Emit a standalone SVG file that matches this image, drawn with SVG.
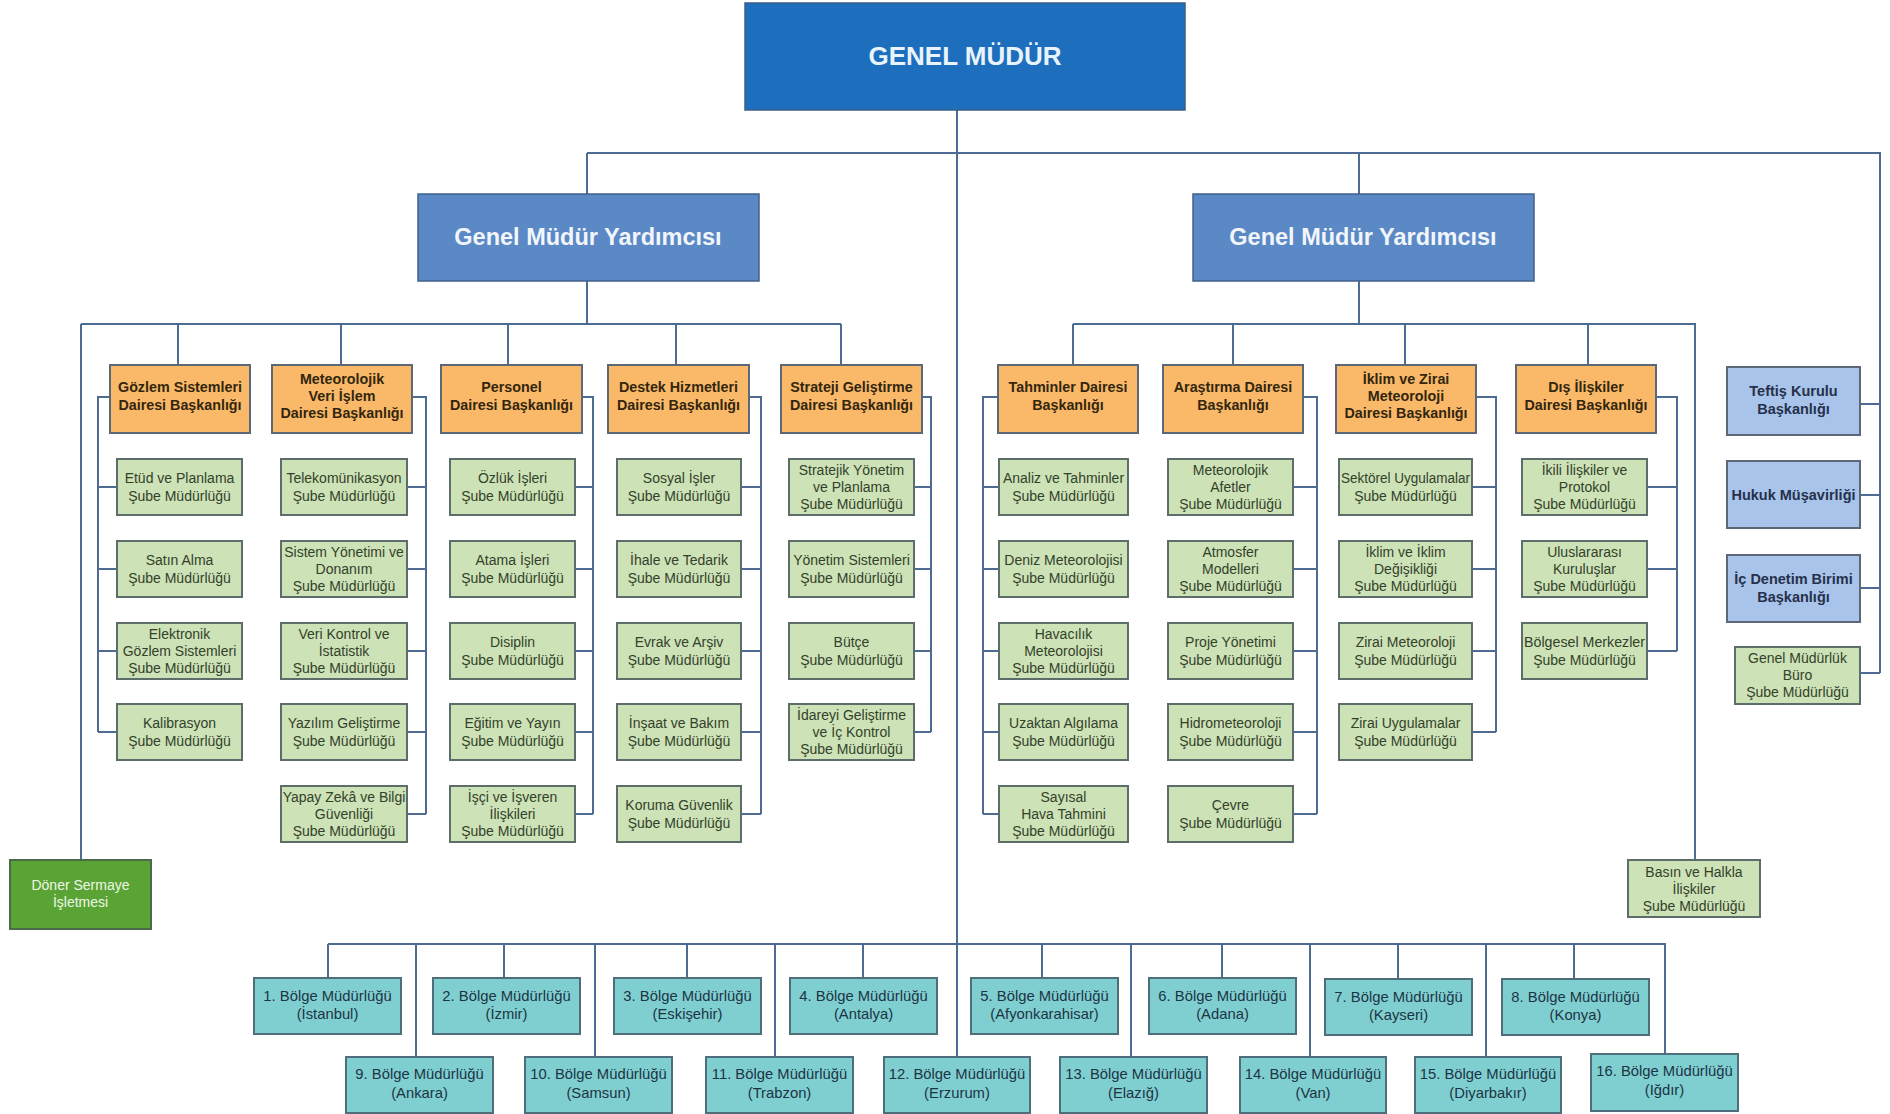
<svg xmlns="http://www.w3.org/2000/svg" width="1890" height="1114" viewBox="0 0 1890 1114">
<style>
.ln{stroke:#4e6b93;stroke-width:2;fill:none}
.gm{fill:#1d6fbe;stroke:#3a5f86;stroke-width:1.5}
.gmy{fill:#5b89c6;stroke:#40618c;stroke-width:1.5}
.or{fill:#f9b968;stroke:#5c6875;stroke-width:2}
.gr{fill:#cde2b6;stroke:#5c6d6a;stroke-width:2}
.bl{fill:#a8c4ea;stroke:#5c6878;stroke-width:2}
.tl{fill:#80cfd0;stroke:#4f6e7c;stroke-width:2}
.dn{fill:#5aa435;stroke:#4a6a4a;stroke-width:2}
text{font-family:"Liberation Sans",Arial,sans-serif;text-anchor:middle}
.tgm{font-size:26px;font-weight:bold;fill:#e8f3fb}
.tgmy{font-size:23.5px;font-weight:bold;fill:#f2f6fb}
.tor{font-size:14.3px;font-weight:bold;fill:#33260f}
.tgr{font-size:14px;fill:#33412b}
.tbl{font-size:14.5px;font-weight:bold;fill:#26304a}
.ttl{font-size:14.8px;fill:#1c3444}
.tdn{font-size:14px;fill:#eef7e6}
</style>

<g id="connectors">
<path class="ln" d="M957,110 V1057"/>
<path class="ln" d="M587,153 H1880 V673"/>
<path class="ln" d="M587,153 V194"/>
<path class="ln" d="M1359,153 V194"/>
<path class="ln" d="M1860,404 H1880 M1860,495 H1880 M1860,588 H1880 M1860,673 H1880"/>
<path class="ln" d="M587,281 V324 M81,324 H841 M81,324 V860"/>
<path class="ln" d="M178,324 V365 M341,324 V365 M508,324 V365 M676,324 V365 M841,324 V365"/>
<path class="ln" d="M1359,281 V324 M1073,324 H1695 V860"/>
<path class="ln" d="M1073,324 V365 M1233,324 V365 M1405,324 V365 M1588,324 V365"/>
<path class="ln" d="M110,397 H98 V732 M98,487 H117 M98,569 H117 M98,651 H117 M98,732 H117"/>
<path class="ln" d="M412,397 H426 V814 M407,487 H426 M407,569 H426 M407,651 H426 M407,732 H426 M407,814 H426"/>
<path class="ln" d="M582,397 H593 V814 M575,487 H593 M575,569 H593 M575,651 H593 M575,732 H593 M575,814 H593"/>
<path class="ln" d="M749,397 H761 V814 M741,487 H761 M741,569 H761 M741,651 H761 M741,732 H761 M741,814 H761"/>
<path class="ln" d="M922,397 H931 V732 M914,487 H931 M914,569 H931 M914,651 H931 M914,732 H931"/>
<path class="ln" d="M998,397 H983 V814 M983,487 H999 M983,569 H999 M983,651 H999 M983,732 H999 M983,814 H999"/>
<path class="ln" d="M1303,397 H1317 V814 M1293,487 H1317 M1293,569 H1317 M1293,651 H1317 M1293,732 H1317 M1293,814 H1317"/>
<path class="ln" d="M1476,397 H1496 V732 M1472,487 H1496 M1472,569 H1496 M1472,651 H1496 M1472,732 H1496"/>
<path class="ln" d="M1656,397 H1677 V651 M1647,487 H1677 M1647,569 H1677 M1647,651 H1677"/>
<path class="ln" d="M328,944 H1665 V1054"/>
<path class="ln" d="M328,944 V978 M504,944 V978 M687,944 V978 M863,944 V978 M1042,944 V978 M1222,944 V978 M1398,944 V978 M1574,944 V978"/>
<path class="ln" d="M416,944 V1057 M595,944 V1057 M775,944 V1057 M1131,944 V1057 M1310,944 V1057 M1486,944 V1057"/>
</g>

<g id="genel-mudur"><rect class="gm" x="745" y="3" width="440" height="107"/><text class="tgm" x="965" y="65">GENEL MÜDÜR</text></g>
<g id="gmy-left"><rect class="gmy" x="418" y="194" width="341" height="87"/><text class="tgmy" x="588" y="245">Genel Müdür Yardımcısı</text></g>
<g id="gmy-right"><rect class="gmy" x="1193" y="194" width="341" height="87"/><text class="tgmy" x="1363" y="245">Genel Müdür Yardımcısı</text></g>

<g id="gozlem"><rect class="or" x="110" y="365" width="140" height="68"/><text class="tor"><tspan x="180" y="392">Gözlem Sistemleri</tspan><tspan x="180" y="410">Dairesi Başkanlığı</tspan></text></g>
<g id="meteorolojik-veri"><rect class="or" x="272" y="365" width="140" height="68"/><text class="tor"><tspan x="342" y="384">Meteorolojik</tspan><tspan x="342" y="401">Veri İşlem</tspan><tspan x="342" y="418">Dairesi Başkanlığı</tspan></text></g>
<g id="personel"><rect class="or" x="441" y="365" width="141" height="68"/><text class="tor"><tspan x="511.5" y="392">Personel</tspan><tspan x="511.5" y="410">Dairesi Başkanlığı</tspan></text></g>
<g id="destek"><rect class="or" x="608" y="365" width="141" height="68"/><text class="tor"><tspan x="678.5" y="392">Destek Hizmetleri</tspan><tspan x="678.5" y="410">Dairesi Başkanlığı</tspan></text></g>
<g id="strateji"><rect class="or" x="781" y="365" width="141" height="68"/><text class="tor"><tspan x="851.5" y="392">Strateji Geliştirme</tspan><tspan x="851.5" y="410">Dairesi Başkanlığı</tspan></text></g>
<g id="tahminler"><rect class="or" x="998" y="365" width="140" height="68"/><text class="tor"><tspan x="1068" y="392">Tahminler Dairesi</tspan><tspan x="1068" y="410">Başkanlığı</tspan></text></g>
<g id="arastirma"><rect class="or" x="1163" y="365" width="140" height="68"/><text class="tor"><tspan x="1233" y="392">Araştırma Dairesi</tspan><tspan x="1233" y="410">Başkanlığı</tspan></text></g>
<g id="iklim"><rect class="or" x="1336" y="365" width="140" height="68"/><text class="tor"><tspan x="1406" y="384">İklim ve Zirai</tspan><tspan x="1406" y="401">Meteoroloji</tspan><tspan x="1406" y="418">Dairesi Başkanlığı</tspan></text></g>
<g id="dis-iliskiler"><rect class="or" x="1516" y="365" width="140" height="68"/><text class="tor"><tspan x="1586" y="392">Dış İlişkiler</tspan><tspan x="1586" y="410">Dairesi Başkanlığı</tspan></text></g>

<g id="etud"><rect class="gr" x="117" y="459" width="125" height="56"/><text class="tgr"><tspan x="179.5" y="483">Etüd ve Planlama</tspan><tspan x="179.5" y="501">Şube Müdürlüğü</tspan></text></g>
<g id="satin-alma"><rect class="gr" x="117" y="541" width="125" height="56"/><text class="tgr"><tspan x="179.5" y="565">Satın Alma</tspan><tspan x="179.5" y="583">Şube Müdürlüğü</tspan></text></g>
<g id="elektronik"><rect class="gr" x="117" y="623" width="125" height="56"/><text class="tgr"><tspan x="179.5" y="639">Elektronik</tspan><tspan x="179.5" y="656">Gözlem Sistemleri</tspan><tspan x="179.5" y="673">Şube Müdürlüğü</tspan></text></g>
<g id="kalibrasyon"><rect class="gr" x="117" y="704" width="125" height="56"/><text class="tgr"><tspan x="179.5" y="728">Kalibrasyon</tspan><tspan x="179.5" y="746">Şube Müdürlüğü</tspan></text></g>

<g id="telekom"><rect class="gr" x="281" y="459" width="126" height="56"/><text class="tgr"><tspan x="344" y="483">Telekomünikasyon</tspan><tspan x="344" y="501">Şube Müdürlüğü</tspan></text></g>
<g id="sistem-yonetimi"><rect class="gr" x="281" y="541" width="126" height="56"/><text class="tgr"><tspan x="344" y="557">Sistem Yönetimi ve</tspan><tspan x="344" y="574">Donanım</tspan><tspan x="344" y="591">Şube Müdürlüğü</tspan></text></g>
<g id="veri-kontrol"><rect class="gr" x="281" y="623" width="126" height="56"/><text class="tgr"><tspan x="344" y="639">Veri Kontrol ve</tspan><tspan x="344" y="656">İstatistik</tspan><tspan x="344" y="673">Şube Müdürlüğü</tspan></text></g>
<g id="yazilim"><rect class="gr" x="281" y="704" width="126" height="56"/><text class="tgr"><tspan x="344" y="728">Yazılım Geliştirme</tspan><tspan x="344" y="746">Şube Müdürlüğü</tspan></text></g>
<g id="yapay-zeka"><rect class="gr" x="281" y="786" width="126" height="56"/><text class="tgr"><tspan x="344" y="802">Yapay Zekâ ve Bilgi</tspan><tspan x="344" y="819">Güvenliği</tspan><tspan x="344" y="836">Şube Müdürlüğü</tspan></text></g>

<g id="ozluk"><rect class="gr" x="450" y="459" width="125" height="56"/><text class="tgr"><tspan x="512.5" y="483">Özlük İşleri</tspan><tspan x="512.5" y="501">Şube Müdürlüğü</tspan></text></g>
<g id="atama"><rect class="gr" x="450" y="541" width="125" height="56"/><text class="tgr"><tspan x="512.5" y="565">Atama İşleri</tspan><tspan x="512.5" y="583">Şube Müdürlüğü</tspan></text></g>
<g id="disiplin"><rect class="gr" x="450" y="623" width="125" height="56"/><text class="tgr"><tspan x="512.5" y="647">Disiplin</tspan><tspan x="512.5" y="665">Şube Müdürlüğü</tspan></text></g>
<g id="egitim"><rect class="gr" x="450" y="704" width="125" height="56"/><text class="tgr"><tspan x="512.5" y="728">Eğitim ve Yayın</tspan><tspan x="512.5" y="746">Şube Müdürlüğü</tspan></text></g>
<g id="isci-isveren"><rect class="gr" x="450" y="786" width="125" height="56"/><text class="tgr"><tspan x="512.5" y="802">İşçi ve İşveren</tspan><tspan x="512.5" y="819">İlişkileri</tspan><tspan x="512.5" y="836">Şube Müdürlüğü</tspan></text></g>

<g id="sosyal"><rect class="gr" x="617" y="459" width="124" height="56"/><text class="tgr"><tspan x="679" y="483">Sosyal İşler</tspan><tspan x="679" y="501">Şube Müdürlüğü</tspan></text></g>
<g id="ihale"><rect class="gr" x="617" y="541" width="124" height="56"/><text class="tgr"><tspan x="679" y="565">İhale ve Tedarik</tspan><tspan x="679" y="583">Şube Müdürlüğü</tspan></text></g>
<g id="evrak"><rect class="gr" x="617" y="623" width="124" height="56"/><text class="tgr"><tspan x="679" y="647">Evrak ve Arşiv</tspan><tspan x="679" y="665">Şube Müdürlüğü</tspan></text></g>
<g id="insaat"><rect class="gr" x="617" y="704" width="124" height="56"/><text class="tgr"><tspan x="679" y="728">İnşaat ve Bakım</tspan><tspan x="679" y="746">Şube Müdürlüğü</tspan></text></g>
<g id="koruma"><rect class="gr" x="617" y="786" width="124" height="56"/><text class="tgr"><tspan x="679" y="810">Koruma Güvenlik</tspan><tspan x="679" y="828">Şube Müdürlüğü</tspan></text></g>

<g id="stratejik-yonetim"><rect class="gr" x="789" y="459" width="125" height="56"/><text class="tgr"><tspan x="851.5" y="475">Stratejik Yönetim</tspan><tspan x="851.5" y="492">ve Planlama</tspan><tspan x="851.5" y="509">Şube Müdürlüğü</tspan></text></g>
<g id="yonetim-sistemleri"><rect class="gr" x="789" y="541" width="125" height="56"/><text class="tgr"><tspan x="851.5" y="565">Yönetim Sistemleri</tspan><tspan x="851.5" y="583">Şube Müdürlüğü</tspan></text></g>
<g id="butce"><rect class="gr" x="789" y="623" width="125" height="56"/><text class="tgr"><tspan x="851.5" y="647">Bütçe</tspan><tspan x="851.5" y="665">Şube Müdürlüğü</tspan></text></g>
<g id="idareyi"><rect class="gr" x="789" y="704" width="125" height="56"/><text class="tgr"><tspan x="851.5" y="720">İdareyi Geliştirme</tspan><tspan x="851.5" y="737">ve İç Kontrol</tspan><tspan x="851.5" y="754">Şube Müdürlüğü</tspan></text></g>

<g id="analiz"><rect class="gr" x="999" y="459" width="129" height="56"/><text class="tgr"><tspan x="1063.5" y="483">Analiz ve Tahminler</tspan><tspan x="1063.5" y="501">Şube Müdürlüğü</tspan></text></g>
<g id="deniz"><rect class="gr" x="999" y="541" width="129" height="56"/><text class="tgr"><tspan x="1063.5" y="565">Deniz Meteorolojisi</tspan><tspan x="1063.5" y="583">Şube Müdürlüğü</tspan></text></g>
<g id="havacilik"><rect class="gr" x="999" y="623" width="129" height="56"/><text class="tgr"><tspan x="1063.5" y="639">Havacılık</tspan><tspan x="1063.5" y="656">Meteorolojisi</tspan><tspan x="1063.5" y="673">Şube Müdürlüğü</tspan></text></g>
<g id="uzaktan"><rect class="gr" x="999" y="704" width="129" height="56"/><text class="tgr"><tspan x="1063.5" y="728">Uzaktan Algılama</tspan><tspan x="1063.5" y="746">Şube Müdürlüğü</tspan></text></g>
<g id="sayisal"><rect class="gr" x="999" y="786" width="129" height="56"/><text class="tgr"><tspan x="1063.5" y="802">Sayısal</tspan><tspan x="1063.5" y="819">Hava Tahmini</tspan><tspan x="1063.5" y="836">Şube Müdürlüğü</tspan></text></g>

<g id="afetler"><rect class="gr" x="1168" y="459" width="125" height="56"/><text class="tgr"><tspan x="1230.5" y="475">Meteorolojik</tspan><tspan x="1230.5" y="492">Afetler</tspan><tspan x="1230.5" y="509">Şube Müdürlüğü</tspan></text></g>
<g id="atmosfer"><rect class="gr" x="1168" y="541" width="125" height="56"/><text class="tgr"><tspan x="1230.5" y="557">Atmosfer</tspan><tspan x="1230.5" y="574">Modelleri</tspan><tspan x="1230.5" y="591">Şube Müdürlüğü</tspan></text></g>
<g id="proje"><rect class="gr" x="1168" y="623" width="125" height="56"/><text class="tgr"><tspan x="1230.5" y="647">Proje Yönetimi</tspan><tspan x="1230.5" y="665">Şube Müdürlüğü</tspan></text></g>
<g id="hidro"><rect class="gr" x="1168" y="704" width="125" height="56"/><text class="tgr"><tspan x="1230.5" y="728">Hidrometeoroloji</tspan><tspan x="1230.5" y="746">Şube Müdürlüğü</tspan></text></g>
<g id="cevre"><rect class="gr" x="1168" y="786" width="125" height="56"/><text class="tgr"><tspan x="1230.5" y="810">Çevre</tspan><tspan x="1230.5" y="828">Şube Müdürlüğü</tspan></text></g>

<g id="sektorel"><rect class="gr" x="1339" y="459" width="133" height="56"/><text class="tgr"><tspan x="1405.5" y="483" textLength="129" lengthAdjust="spacingAndGlyphs">Sektörel Uygulamalar</tspan><tspan x="1405.5" y="501">Şube Müdürlüğü</tspan></text></g>
<g id="iklim-degisikligi"><rect class="gr" x="1339" y="541" width="133" height="56"/><text class="tgr"><tspan x="1405.5" y="557">İklim ve İklim</tspan><tspan x="1405.5" y="574">Değişikliği</tspan><tspan x="1405.5" y="591">Şube Müdürlüğü</tspan></text></g>
<g id="zirai-met"><rect class="gr" x="1339" y="623" width="133" height="56"/><text class="tgr"><tspan x="1405.5" y="647">Zirai Meteoroloji</tspan><tspan x="1405.5" y="665">Şube Müdürlüğü</tspan></text></g>
<g id="zirai-uyg"><rect class="gr" x="1339" y="704" width="133" height="56"/><text class="tgr"><tspan x="1405.5" y="728">Zirai Uygulamalar</tspan><tspan x="1405.5" y="746">Şube Müdürlüğü</tspan></text></g>

<g id="ikili"><rect class="gr" x="1522" y="459" width="125" height="56"/><text class="tgr"><tspan x="1584.5" y="475">İkili İlişkiler ve</tspan><tspan x="1584.5" y="492">Protokol</tspan><tspan x="1584.5" y="509">Şube Müdürlüğü</tspan></text></g>
<g id="uluslararasi"><rect class="gr" x="1522" y="541" width="125" height="56"/><text class="tgr"><tspan x="1584.5" y="557">Uluslararası</tspan><tspan x="1584.5" y="574">Kuruluşlar</tspan><tspan x="1584.5" y="591">Şube Müdürlüğü</tspan></text></g>
<g id="bolgesel"><rect class="gr" x="1522" y="623" width="125" height="56"/><text class="tgr"><tspan x="1584.5" y="647" textLength="121" lengthAdjust="spacingAndGlyphs">Bölgesel Merkezler</tspan><tspan x="1584.5" y="665">Şube Müdürlüğü</tspan></text></g>

<g id="teftis"><rect class="bl" x="1727" y="367" width="133" height="68"/><text class="tbl"><tspan x="1793.5" y="396">Teftiş Kurulu</tspan><tspan x="1793.5" y="414">Başkanlığı</tspan></text></g>
<g id="hukuk"><rect class="bl" x="1727" y="461" width="133" height="67"/><text class="tbl"><tspan x="1793.5" y="500">Hukuk Müşavirliği</tspan></text></g>
<g id="ic-denetim"><rect class="bl" x="1727" y="555" width="133" height="67"/><text class="tbl"><tspan x="1793.5" y="584">İç Denetim Birimi</tspan><tspan x="1793.5" y="602">Başkanlığı</tspan></text></g>
<g id="buro"><rect class="gr" x="1735" y="647" width="125" height="57"/><text class="tgr"><tspan x="1797.5" y="663">Genel Müdürlük</tspan><tspan x="1797.5" y="680">Büro</tspan><tspan x="1797.5" y="697">Şube Müdürlüğü</tspan></text></g>
<g id="basin"><rect class="gr" x="1628" y="860" width="132" height="57"/><text class="tgr"><tspan x="1694" y="877">Basın ve Halkla</tspan><tspan x="1694" y="894">İlişkiler</tspan><tspan x="1694" y="911">Şube Müdürlüğü</tspan></text></g>
<g id="doner"><rect class="dn" x="10" y="860" width="141" height="69"/><text class="tdn"><tspan x="80.5" y="890">Döner Sermaye</tspan><tspan x="80.5" y="907">İşletmesi</tspan></text></g>

<g id="bolge1"><rect class="tl" x="254" y="978" width="147" height="56"/><text class="ttl"><tspan x="327.5" y="1001">1. Bölge Müdürlüğü</tspan><tspan x="327.5" y="1019">(İstanbul)</tspan></text></g>
<g id="bolge2"><rect class="tl" x="433" y="978" width="147" height="56"/><text class="ttl"><tspan x="506.5" y="1001">2. Bölge Müdürlüğü</tspan><tspan x="506.5" y="1019">(İzmir)</tspan></text></g>
<g id="bolge3"><rect class="tl" x="614" y="978" width="147" height="56"/><text class="ttl"><tspan x="687.5" y="1001">3. Bölge Müdürlüğü</tspan><tspan x="687.5" y="1019">(Eskişehir)</tspan></text></g>
<g id="bolge4"><rect class="tl" x="790" y="978" width="147" height="56"/><text class="ttl"><tspan x="863.5" y="1001">4. Bölge Müdürlüğü</tspan><tspan x="863.5" y="1019">(Antalya)</tspan></text></g>
<g id="bolge5"><rect class="tl" x="971" y="978" width="147" height="56"/><text class="ttl"><tspan x="1044.5" y="1001">5. Bölge Müdürlüğü</tspan><tspan x="1044.5" y="1019">(Afyonkarahisar)</tspan></text></g>
<g id="bolge6"><rect class="tl" x="1149" y="978" width="147" height="56"/><text class="ttl"><tspan x="1222.5" y="1001">6. Bölge Müdürlüğü</tspan><tspan x="1222.5" y="1019">(Adana)</tspan></text></g>
<g id="bolge7"><rect class="tl" x="1325" y="979" width="147" height="56"/><text class="ttl"><tspan x="1398.5" y="1002">7. Bölge Müdürlüğü</tspan><tspan x="1398.5" y="1020">(Kayseri)</tspan></text></g>
<g id="bolge8"><rect class="tl" x="1502" y="979" width="147" height="56"/><text class="ttl"><tspan x="1575.5" y="1002">8. Bölge Müdürlüğü</tspan><tspan x="1575.5" y="1020">(Konya)</tspan></text></g>

<g id="bolge9"><rect class="tl" x="346" y="1057" width="147" height="56"/><text class="ttl"><tspan x="419.5" y="1079">9. Bölge Müdürlüğü</tspan><tspan x="419.5" y="1098">(Ankara)</tspan></text></g>
<g id="bolge10"><rect class="tl" x="525" y="1057" width="147" height="56"/><text class="ttl"><tspan x="598.5" y="1079">10. Bölge Müdürlüğü</tspan><tspan x="598.5" y="1098">(Samsun)</tspan></text></g>
<g id="bolge11"><rect class="tl" x="706" y="1057" width="147" height="56"/><text class="ttl"><tspan x="779.5" y="1079">11. Bölge Müdürlüğü</tspan><tspan x="779.5" y="1098">(Trabzon)</tspan></text></g>
<g id="bolge12"><rect class="tl" x="884" y="1057" width="146" height="56"/><text class="ttl"><tspan x="957" y="1079">12. Bölge Müdürlüğü</tspan><tspan x="957" y="1098">(Erzurum)</tspan></text></g>
<g id="bolge13"><rect class="tl" x="1060" y="1057" width="147" height="56"/><text class="ttl"><tspan x="1133.5" y="1079">13. Bölge Müdürlüğü</tspan><tspan x="1133.5" y="1098">(Elazığ)</tspan></text></g>
<g id="bolge14"><rect class="tl" x="1240" y="1057" width="146" height="56"/><text class="ttl"><tspan x="1313" y="1079">14. Bölge Müdürlüğü</tspan><tspan x="1313" y="1098">(Van)</tspan></text></g>
<g id="bolge15"><rect class="tl" x="1415" y="1057" width="146" height="56"/><text class="ttl"><tspan x="1488" y="1079">15. Bölge Müdürlüğü</tspan><tspan x="1488" y="1098">(Diyarbakır)</tspan></text></g>
<g id="bolge16"><rect class="tl" x="1591" y="1054" width="147" height="57"/><text class="ttl"><tspan x="1664.5" y="1076">16. Bölge Müdürlüğü</tspan><tspan x="1664.5" y="1095">(Iğdır)</tspan></text></g>
</svg>
